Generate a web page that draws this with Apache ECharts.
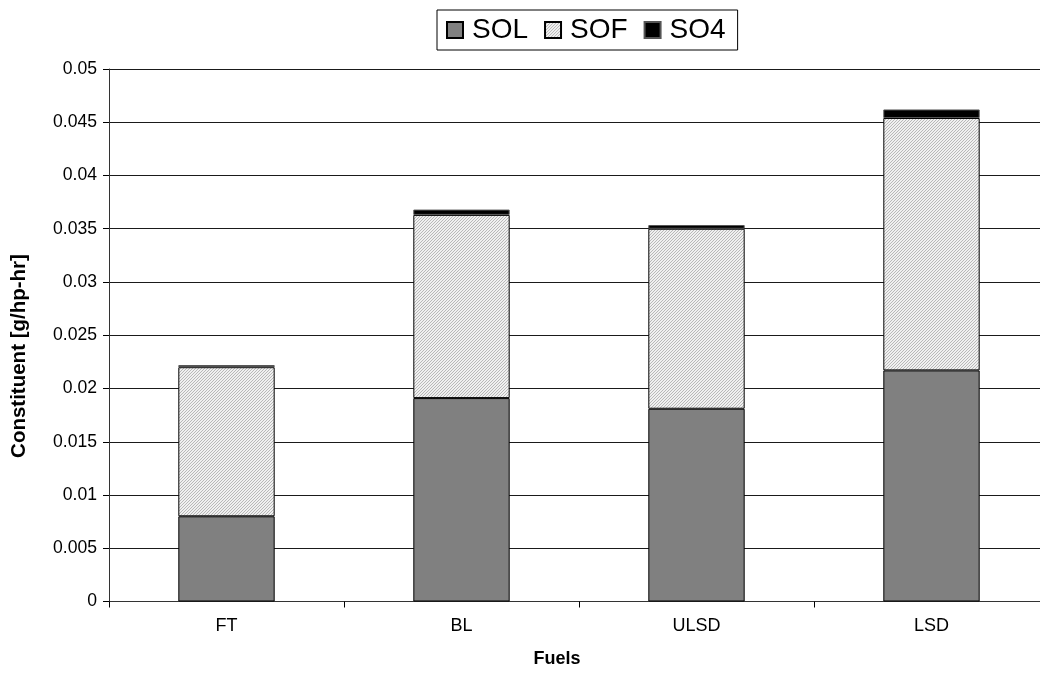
<!DOCTYPE html>
<html>
<head>
<meta charset="utf-8">
<script src="https://cdn.jsdelivr.net/npm/echarts@6/dist/echarts.min.js"></script>
<style>
  html, body { margin: 0; padding: 0; background: #fff; }
  #chart { width: 1040px; height: 684px; }
</style>
</head>
<body>
<div id="chart"></div>
<script>
// Fuel categories and particulate constituents (g/hp-hr)
const fuels = ['FT', 'BL', 'ULSD', 'LSD'];
const solValues = [0.0080, 0.0191, 0.0181, 0.0217];
const sofValues = [0.0140, 0.0172, 0.0169, 0.0237];
const so4Values = [0.0002, 0.0005, 0.00035, 0.0008];
const yTicks = [0, 0.005, 0.01, 0.015, 0.02, 0.025, 0.03, 0.035, 0.04, 0.045, 0.05];

const FONT = 'Liberation Sans, Arial, sans-serif';

// Fine diagonal hatch used for the SOF segments
function hatchPattern() {
  const c = document.createElement('canvas');
  c.width = 3; c.height = 3;
  const g = c.getContext('2d');
  g.fillStyle = '#f0f0f0';
  g.fillRect(0, 0, 3, 3);
  g.fillStyle = '#b8b8b8';
  for (let i = 0; i < 3; i++) g.fillRect(i, 2 - i, 1, 1);
  return c;
}
const sofFill = { image: hatchPattern(), repeat: 'repeat' };

const chart = echarts.init(document.getElementById('chart'), null, { renderer: 'canvas' });

const barCommon = {
  type: 'bar',
  stack: 'total',
  barWidth: '41%',
  emphasis: { disabled: true }
};

chart.setOption({
  animation: false,
  backgroundColor: '#fff',
  textStyle: { fontFamily: FONT },
  legend: {
    left: 437,
    top: 10,
    padding: [6, 12, 6, 9],
    itemGap: 16,
    itemWidth: 16,
    itemHeight: 16,
    borderColor: '#000',
    borderWidth: 1,
    icon: 'rect',
    textStyle: { fontFamily: FONT, fontSize: 28, color: '#000', padding: [0, 0, 0, 4] },
    data: ['SOL', 'SOF', 'SO4']
  },
  grid: { left: 109, top: 69, width: 940, height: 532.5, outerBoundsMode: 'none' },
  xAxis: {
    type: 'category',
    data: fuels,
    boundaryGap: true,
    axisLine: { lineStyle: { color: '#333', width: 1 } },
    axisTick: { show: true, length: 6, lineStyle: { color: '#000' } },
    axisLabel: { color: '#000', fontSize: 18, fontFamily: FONT, margin: 16 }
  },
  yAxis: {
    type: 'value',
    min: 0,
    max: 0.05,
    interval: 0.005,
    axisLine: { show: true, lineStyle: { color: '#333', width: 1 } },
    axisTick: { show: true, length: 6, lineStyle: { color: '#000' } },
    axisLabel: {
      color: '#000', fontSize: 17.6, fontFamily: FONT, margin: 12,
      formatter: v => {
        const t = yTicks.find(k => Math.abs(k - v) < 1e-9);
        return String(t !== undefined ? t : v);
      }
    },
    splitLine: { show: true, lineStyle: { color: '#1a1a1a', width: 1 } }
  },
  graphic: [
    {
      type: 'text',
      x: 19,
      y: 356,
      rotation: Math.PI / 2,
      style: {
        text: 'Constituent [g/hp-hr]',
        font: 'bold 20.5px ' + FONT,
        fill: '#000',
        align: 'center',
        verticalAlign: 'middle'
      }
    },
    {
      type: 'text',
      x: 557,
      y: 659,
      style: {
        text: 'Fuels',
        font: 'bold 18px ' + FONT,
        fill: '#000',
        align: 'center',
        verticalAlign: 'middle'
      }
    }
  ],
  series: [
    Object.assign({}, barCommon, {
      name: 'SOL',
      data: solValues,
      itemStyle: { color: '#808080', borderColor: '#000', borderWidth: 1 }
    }),
    Object.assign({}, barCommon, {
      name: 'SOF',
      data: sofValues,
      itemStyle: { color: sofFill, borderColor: '#000', borderWidth: 1 }
    }),
    Object.assign({}, barCommon, {
      name: 'SO4',
      data: so4Values,
      itemStyle: { color: '#000', borderColor: '#555', borderWidth: 1 }
    })
  ]
});
</script>
</body>
</html>
